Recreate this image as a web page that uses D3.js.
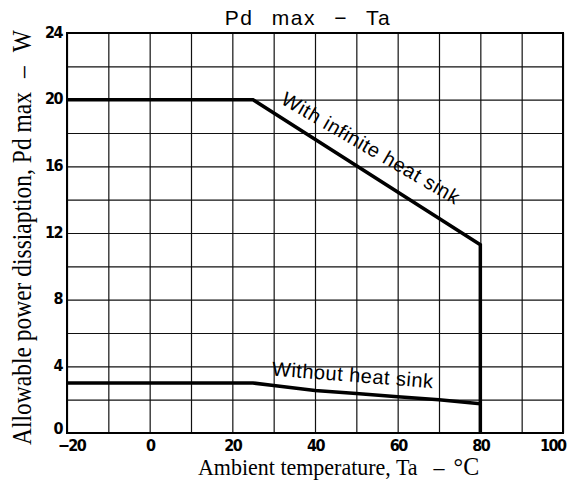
<!DOCTYPE html>
<html>
<head>
<meta charset="utf-8">
<script src="https://cdn.jsdelivr.net/npm/d3@7"></script>
<style>
    html, body { margin: 0; padding: 0; background: #fff; }
    #chart { width: 571px; height: 481px; }
</style>
</head>
<body>
<div id="chart"></div>
<script>
// values
const tempInfinite = [-20, 25, 80, 80];
const pdInfinite = [20, 20, 11.3, 0];
const tempNoSink = [-20, 25, 30, 40, 50, 60, 70, 80];
const pdNoSink = [3, 3, 2.85, 2.55, 2.37, 2.17, 2.0, 1.75];

const xTickLabels = [-20, 0, 20, 40, 60, 80, 100];
const yTickLabels = [0, 4, 8, 12, 16, 20, 24];
const xGridValues = [-20, -10, 0, 10, 20, 30, 40, 50, 60, 70, 80, 90, 100];
const yGridValues = [0, 2, 4, 6, 8, 10, 12, 14, 16, 18, 20, 22, 24];

function PdChart(options = {}) {
    let {containerId, margin} = options;
    let _margin = Object.assign({top: 33, right: 8, bottom: 48, left: 67}, margin || {});
    let width = 571 - _margin.left - _margin.right;
    let height = 481 - _margin.top - _margin.bottom;

    let root = d3.select('#' + containerId)
        .append("svg")
        .attr("width", 571)
        .attr("height", 481);

    let svg = root.append("g")
        .attr("transform", "translate(" + _margin.left + "," + _margin.top + ")");

    let x = d3.scaleLinear().domain([-20, 100]).range([0, width]);
    let y = d3.scaleLinear().domain([0, 24]).range([height, 0]);

    // grid
    let xGrid = svg.append("g")
        .attr("transform", "translate(0," + height + ")")
        .call(d3.axisBottom(x).tickValues(xGridValues).tickSize(-height).tickFormat(""));
    let yGrid = svg.append("g")
        .call(d3.axisLeft(y).tickValues(yGridValues).tickSize(-width).tickFormat(""));
    [xGrid, yGrid].forEach(function (g) {
        g.select(".domain").remove();
        g.selectAll(".tick line")
            .attr("stroke", "#111")
            .attr("stroke-width", 1.2);
    });

    // frame
    svg.append("rect")
        .attr("x", 0)
        .attr("y", 0)
        .attr("width", width)
        .attr("height", height)
        .attr("fill", "none")
        .attr("stroke", "#000")
        .attr("stroke-width", 2);

    // tick labels
    let tickFont = "'DejaVu Sans Condensed', 'DejaVu Sans', sans-serif";
    let xAxis = svg.append("g")
        .attr("transform", "translate(0," + height + ")")
        .call(d3.axisBottom(x).tickValues(xTickLabels).tickSize(0).tickPadding(4));
    let yAxis = svg.append("g")
        .call(d3.axisLeft(y).tickValues(yTickLabels).tickSize(0).tickPadding(5));
    [xAxis, yAxis].forEach(function (g) {
        g.select(".domain").remove();
        g.selectAll(".tick text")
            .attr("fill", "#000")
            .style("font-family", tickFont)
            .style("font-weight", "bold")
            .style("font-size", "16px")
            .style("letter-spacing", "-1.5px");
    });
    xAxis.selectAll(".tick text").attr("dy", "0.85em");
    // end labels are pulled inside the frame
    xAxis.selectAll(".tick text")
        .filter(function (d) { return d === 100; })
        .attr("text-anchor", "end")
        .attr("x", 2);
    xAxis.selectAll(".tick text")
        .filter(function (d) { return d === -20; })
        .attr("x", 4);
    yAxis.selectAll(".tick text").attr("dy", "0.25em");
    yAxis.selectAll(".tick text")
        .filter(function (d) { return d === 0; })
        .attr("dy", "0em");

    // curves
    let line = d3.line()
        .x(function (d) { return x(d[0]); })
        .y(function (d) { return y(d[1]); });

    svg.append("path")
        .datum(d3.zip(tempInfinite, pdInfinite))
        .attr("fill", "none")
        .attr("stroke", "#000")
        .attr("stroke-width", 3.5)
        .attr("stroke-linejoin", "miter")
        .attr("d", line);

    svg.append("path")
        .datum(d3.zip(tempNoSink, pdNoSink))
        .attr("fill", "none")
        .attr("stroke", "#000")
        .attr("stroke-width", 3.5)
        .attr("d", line);

    // curve labels
    let labelFont = "'Liberation Sans', Arial, sans-serif";
    svg.append("text")
        .attr("transform", "translate(" + x(31.5) + "," + y(19.8) + ") rotate(30.2)")
        .style("font-family", labelFont)
        .style("font-size", "20px")
        .style("letter-spacing", "0.6px")
        .text("With infinite heat sink");

    svg.append("text")
        .attr("transform", "translate(" + x(29.5) + "," + y(3.45) + ") rotate(4.5)")
        .style("font-family", labelFont)
        .style("font-size", "20px")
        .style("letter-spacing", "0.5px")
        .text("Without heat sink");

    // title
    root.append("text")
        .attr("x", 308)
        .attr("y", 25)
        .attr("text-anchor", "middle")
        .style("font-family", labelFont)
        .style("font-size", "21px")
        .style("letter-spacing", "1.5px")
        .style("word-spacing", "11px")
        .text("Pd max \u2212 Ta");

    // axis titles
    let serif = "'Liberation Serif', 'Times New Roman', serif";
    let xTitle = root.append("text")
        .attr("transform", "translate(198,475) scale(1,1.08)")
        .style("font-family", serif)
        .style("font-size", "22px");
    xTitle.append("tspan").text("Ambient temperature, Ta");
    xTitle.append("tspan").attr("dx", 16).text("\u2013");
    xTitle.append("tspan").attr("dx", 9).style("font-size", "24px").text("\u00b0C");

    let yTitle = root.append("text")
        .attr("transform", "translate(31,445) rotate(-90) scale(1,1.15)")
        .style("font-family", serif)
        .style("font-size", "23.5px");
    yTitle.append("tspan").text("Allowable power dissiaption, Pd max");
    yTitle.append("tspan").attr("dx", 14).text("\u2013");
    yTitle.append("tspan").attr("dx", 14).text("W");
}

PdChart({containerId: "chart"});
</script>
</body>
</html>
